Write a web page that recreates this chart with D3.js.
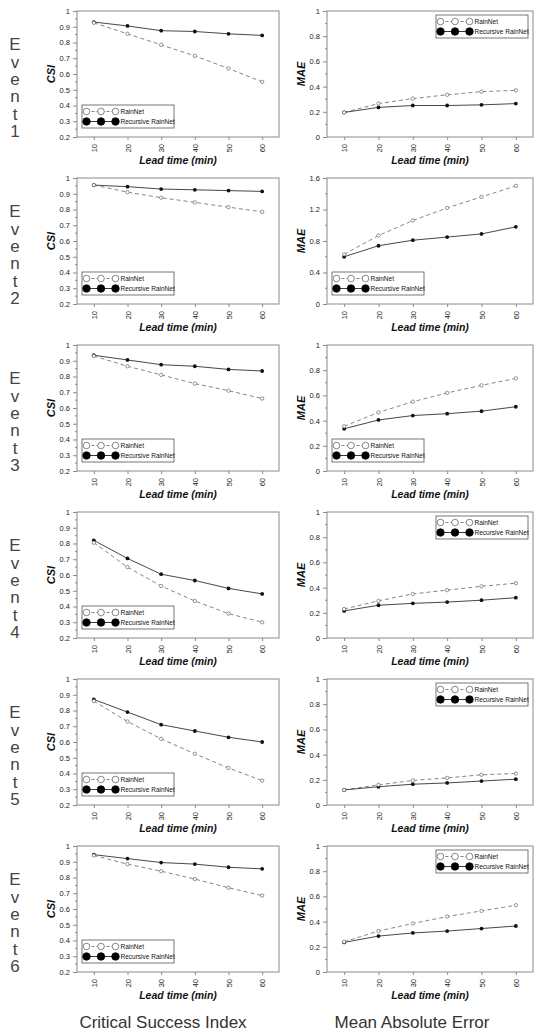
<!DOCTYPE html>
<html><head><meta charset="utf-8">
<script src="https://cdn.jsdelivr.net/npm/d3@7"></script>
<style>body{margin:0;background:#fff}svg{display:block}</style>
</head><body>
<script>
const leadTimes = [10, 20, 30, 40, 50, 60];
const eventNames = ["1", "2", "3", "4", "5", "6"];
const csiRainNet = [
  [0.925, 0.855, 0.785, 0.715, 0.635, 0.55],
  [0.955, 0.91, 0.875, 0.845, 0.815, 0.785],
  [0.93, 0.865, 0.81, 0.755, 0.71, 0.66],
  [0.805, 0.65, 0.53, 0.435, 0.355, 0.30],
  [0.86, 0.73, 0.62, 0.525, 0.435, 0.355],
  [0.94, 0.885, 0.84, 0.79, 0.735, 0.685]
];
const csiRecursive = [
  [0.93, 0.905, 0.875, 0.87, 0.855, 0.845],
  [0.955, 0.945, 0.93, 0.925, 0.92, 0.915],
  [0.935, 0.905, 0.875, 0.865, 0.845, 0.835],
  [0.82, 0.705, 0.605, 0.565, 0.515, 0.48],
  [0.87, 0.79, 0.71, 0.67, 0.63, 0.60],
  [0.945, 0.92, 0.895, 0.885, 0.865, 0.855]
];
const maeRainNet = [
  [0.195, 0.265, 0.305, 0.335, 0.36, 0.37],
  [0.63, 0.87, 1.06, 1.22, 1.36, 1.50],
  [0.355, 0.465, 0.55, 0.62, 0.68, 0.735],
  [0.23, 0.295, 0.35, 0.38, 0.41, 0.435],
  [0.12, 0.16, 0.195, 0.215, 0.24, 0.25],
  [0.24, 0.325, 0.385, 0.44, 0.485, 0.53]
];
const maeRecursive = [
  [0.195, 0.235, 0.25, 0.25, 0.255, 0.265],
  [0.60, 0.74, 0.81, 0.85, 0.89, 0.98],
  [0.335, 0.405, 0.44, 0.455, 0.475, 0.51],
  [0.215, 0.26, 0.275, 0.285, 0.30, 0.32],
  [0.12, 0.145, 0.165, 0.175, 0.19, 0.205],
  [0.235, 0.285, 0.31, 0.325, 0.345, 0.365]
];
const csiTicks = [0.2, 0.3, 0.4, 0.5, 0.6, 0.7, 0.8, 0.9, 1];
const maeTicks = [0, 0.2, 0.4, 0.6, 0.8, 1];
const maeTicksWide = [0, 0.4, 0.8, 1.2, 1.6];
const maeMax = [1, 1.6, 1, 1, 1, 1];
const maeLegendCorner = ["tr", "bl", "bl", "tr", "tr", "tr"];
const seriesNames = ["RainNet", "Recursive RainNet"];
const columnTitles = ["Critical Success Index", "Mean Absolute Error"];

const W = 538, H = 1034;
const svg = d3.select("body").append("svg").attr("width", W).attr("height", H);

const rowStep = 167, top0 = 11, plotH = 126;
const cols = [
  {x0: 77, x1: 279, title: "CSI"},
  {x0: 327, x1: 533, title: "MAE"}
];
const frameCol = "#8a8a8a";
const font = "Liberation Sans, Arial, sans-serif";

function drawPanel(g, col, yDomain, ticks, rain, rec, legendCorner) {
  const x = d3.scaleLinear().domain([5, 65]).range([col.x0, col.x1]);
  const y = d3.scaleLinear().domain(yDomain).range([plotH, 0]);
  g.append("rect").attr("x", col.x0).attr("y", 0).attr("width", col.x1 - col.x0).attr("height", plotH)
    .attr("fill", "none").attr("stroke", frameCol).attr("stroke-width", 1);
  const step = ticks[1] - ticks[0];
  const minor = d3.range(ticks.length - 1).map(i => ticks[0] + step * (i + 0.5));
  const ya = d3.axisLeft(y).tickValues(ticks).tickSize(4).tickPadding(3).tickFormat(d3.format("~g"));
  const yg = g.append("g").attr("transform", `translate(${col.x0},0)`).call(ya);
  yg.select(".domain").remove();
  yg.selectAll("line").attr("stroke", frameCol);
  yg.selectAll("text").attr("font-size", 7.5).attr("font-family", font).attr("fill", "#222");
  g.append("g").selectAll("line").data(minor).join("line")
    .attr("x1", col.x0 - 2).attr("x2", col.x0).attr("y1", d => y(d)).attr("y2", d => y(d))
    .attr("stroke", frameCol);
  const xa = d3.axisBottom(x).tickValues(leadTimes).tickSize(3).tickFormat(d3.format("d"));
  const xg = g.append("g").attr("transform", `translate(0,${plotH})`).call(xa);
  xg.select(".domain").remove();
  xg.selectAll("line").attr("stroke", frameCol);
  xg.selectAll("text").attr("font-size", 7.5).attr("font-family", font).attr("fill", "#222")
    .attr("transform", "rotate(-90)").attr("text-anchor", "end")
    .attr("x", -7).attr("y", 0).attr("dy", "0.35em");
  const cx = (col.x0 + col.x1) / 2;
  g.append("text").attr("x", cx).attr("y", plotH + 27).attr("text-anchor", "middle")
    .attr("font-family", font).attr("font-size", 10.5).attr("font-weight", "bold").attr("font-style", "italic")
    .attr("fill", "#111").text("Lead time (min)");
  g.append("text").attr("transform", `translate(${col.x0 - 22},${plotH / 2}) rotate(-90)`)
    .attr("text-anchor", "middle").attr("font-family", font).attr("font-size", 11)
    .attr("font-weight", "bold").attr("font-style", "italic").attr("fill", "#111").text(col.title);
  const line = d3.line().x((d, i) => x(leadTimes[i])).y(d => y(d));
  g.append("path").datum(rain).attr("d", line).attr("fill", "none").attr("stroke", "#777")
    .attr("stroke-width", 0.9).attr("stroke-dasharray", "4,3");
  g.append("path").datum(rec).attr("d", line).attr("fill", "none").attr("stroke", "#333")
    .attr("stroke-width", 0.9);
  g.append("g").selectAll("circle").data(rec).join("circle")
    .attr("cx", (d, i) => x(leadTimes[i])).attr("cy", d => y(d)).attr("r", 1.9).attr("fill", "#111");
  g.append("g").selectAll("circle").data(rain).join("circle")
    .attr("cx", (d, i) => x(leadTimes[i])).attr("cy", d => y(d)).attr("r", 1.7)
    .attr("fill", "#fff").attr("stroke", "#666").attr("stroke-width", 0.7);
  const lw = 92, lh = 23;
  const lx = legendCorner === "tr" ? col.x1 - 5 - lw : col.x0 + 5;
  const ly = legendCorner === "tr" ? 4 : 94;
  const lg = g.append("g").attr("transform", `translate(${lx},${ly})`);
  lg.append("rect").attr("width", lw).attr("height", lh).attr("fill", "#fff")
    .attr("stroke", "#555").attr("stroke-width", 0.8);
  const cxs = [4.5, 19, 33.5];
  [0, 1].forEach(k => {
    const yy = 6.5 + k * 10;
    lg.append("line").attr("x1", cxs[0]).attr("x2", cxs[2]).attr("y1", yy).attr("y2", yy)
      .attr("stroke", k === 0 ? "#777" : "#222").attr("stroke-width", 0.9)
      .attr("stroke-dasharray", k === 0 ? "3,2" : null);
    lg.append("g").selectAll("circle").data(cxs).join("circle")
      .attr("cx", d => d).attr("cy", yy).attr("r", k === 0 ? 3.3 : 3.8)
      .attr("fill", k === 0 ? "#fff" : "#000").attr("stroke", k === 0 ? "#555" : "#000")
      .attr("stroke-width", 0.7);
    lg.append("text").attr("x", 38.5).attr("y", yy).attr("dy", "0.35em")
      .attr("font-family", font).attr("font-size", 6.5).attr("fill", "#111").text(seriesNames[k]);
  });
}

eventNames.forEach((ev, i) => {
  const g = svg.append("g").attr("transform", `translate(0,${top0 + i * rowStep})`);
  const letters = ("Event" + ev).split("");
  g.append("g").selectAll("text").data(letters).join("text")
    .attr("x", 15).attr("y", (d, k) => 33 + k * 17.4).attr("dy", "0.36em")
    .attr("text-anchor", "middle").attr("font-family", font).attr("font-size", 17)
    .attr("fill", "#444").text(d => d);
  drawPanel(g, cols[0], [0.2, 1], csiTicks, csiRainNet[i], csiRecursive[i], "bl");
  drawPanel(g, cols[1], [0, maeMax[i]], maeMax[i] > 1 ? maeTicksWide : maeTicks,
    maeRainNet[i], maeRecursive[i], maeLegendCorner[i]);
});

columnTitles.forEach((t, k) => {
  svg.append("text").attr("x", k === 0 ? 163 : 412).attr("y", 1028).attr("text-anchor", "middle")
    .attr("font-family", font).attr("font-size", 17).attr("fill", "#333").text(t);
});
</script>
</body></html>
